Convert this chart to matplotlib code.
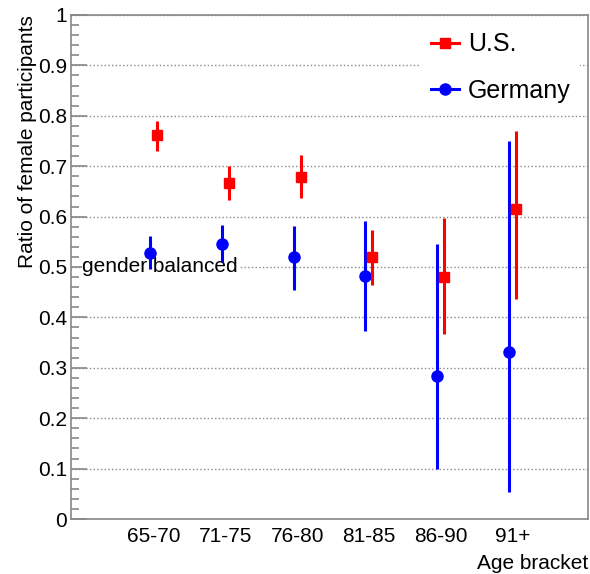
import matplotlib
matplotlib.use("Agg")
import matplotlib.pyplot as plt
import numpy as np
from matplotlib.ticker import MultipleLocator
from matplotlib.lines import Line2D

plt.rcParams['font.family'] = ['Liberation Sans', 'DejaVu Sans']

categories = ["65-70", "71-75", "76-80", "81-85", "86-90", "91+"]
us_val = [0.762, 0.667, 0.679, 0.519, 0.481, 0.615]
us_hi = [0.790, 0.700, 0.722, 0.573, 0.597, 0.770]
us_lo = [0.731, 0.632, 0.636, 0.464, 0.368, 0.437]
de_val = [0.528, 0.546, 0.519, 0.482, 0.284, 0.332]
de_hi = [0.562, 0.583, 0.581, 0.592, 0.546, 0.749]
de_lo = [0.497, 0.509, 0.454, 0.374, 0.100, 0.054]

fig = plt.figure(figsize=(5.9, 5.74), dpi=100)
ax = fig.add_axes([0.1203, 0.0958, 0.8763, 0.8781])

x = np.arange(len(categories))
off = 0.049
us_val_a = np.array(us_val)
de_val_a = np.array(de_val)
us_err = [us_val_a - np.array(us_lo), np.array(us_hi) - us_val_a]
de_err = [de_val_a - np.array(de_lo), np.array(de_hi) - de_val_a]

ax.errorbar(x - off, de_val, yerr=de_err, fmt='o', color='#0000ff', ms=8,
            elinewidth=2.2, capsize=0, zorder=5)
ax.errorbar(x + off, us_val, yerr=us_err, fmt='s', color='#ff0000', ms=7.5,
            elinewidth=2.2, capsize=0, zorder=6)

ax.set_xlim(-1.149, 6.05)
ax.set_ylim(0, 1)
ax.set_xticks(x)
ax.set_xticklabels(categories, fontsize=15)
ax.tick_params(axis='x', length=0, pad=6)
ax.yaxis.set_minor_locator(MultipleLocator(0.02))
ax.set_yticks(np.round(np.arange(0, 1.01, 0.1), 1))
ax.set_yticklabels(["0", "0.1", "0.2", "0.3", "0.4", "0.5", "0.6", "0.7", "0.8", "0.9", "1"])
ax.tick_params(axis='y', which='major', direction='in', length=11.5, width=1.2,
               color='#888888', labelsize=15, pad=3)
ax.tick_params(axis='y', which='minor', direction='in', length=6, width=1.2,
               color='#888888')
ax.grid(axis='y', which='major', linestyle=':', color='#888888', linewidth=1.0, zorder=0)
ax.set_axisbelow(True)
for s in ax.spines.values():
    s.set_color('#888888')
    s.set_linewidth(1.2)

ax.set_ylabel("Ratio of female participants", fontsize=15)
ax.yaxis.set_label_coords(-0.084, 1.0)
ax.yaxis.label.set_ha('right')
ax.yaxis.label.set_va('center')
ax.set_xlabel("Age bracket", fontsize=15)
ax.xaxis.set_label_coords(1.0, -0.088)
ax.xaxis.label.set_ha('right')
ax.xaxis.label.set_va('center')

ax.text(-0.99, 0.5, "gender balanced", fontsize=15, va='center', ha='left',
        zorder=3, bbox=dict(facecolor='white', edgecolor='none', pad=0.5))

handles = [Line2D([], [], color='#ff0000', marker='s', ms=7.5, lw=2.2),
           Line2D([], [], color='#0000ff', marker='o', ms=8, lw=2.2)]
leg = ax.legend(handles, ["U.S.", "Germany"], loc='upper right', fontsize=18,
                frameon=True, framealpha=1, edgecolor='none', fancybox=False,
                handlelength=1.1, handletextpad=0.35, labelspacing=0.9,
                borderaxespad=0.3, bbox_to_anchor=(1.0, 1.0))
leg.set_zorder(10)

fig.savefig("out.png", dpi=100)
